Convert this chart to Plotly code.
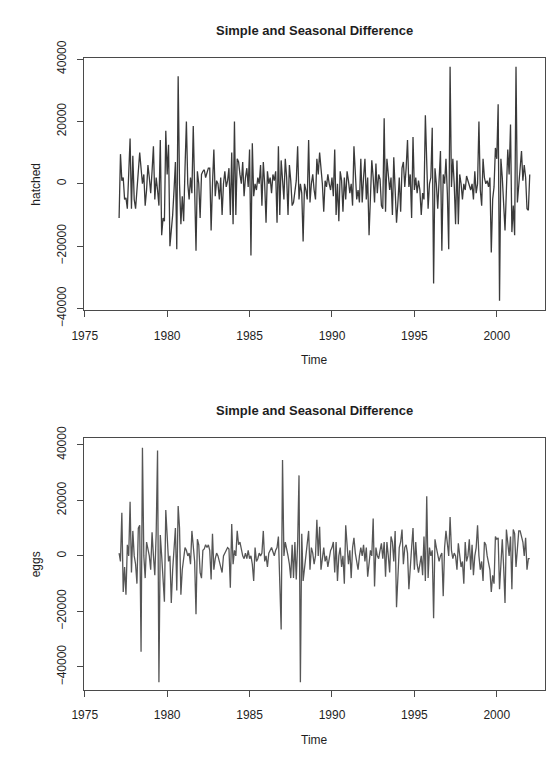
import plotly.graph_objects as go

# Monthly series (Feb 1977 .. Jan 2002), simple + seasonal differences
start_year = 1977
start_month = 2

hatched = [
    -11000, 9500, 1000, 2000, -5000, -4500, -8000, 3000, 14500, -8000, 9000, -5000,
    -8000, -2000, 4000, 10000, 5000, 0, 3000, -7000, -2000, 6000, 2000, -3000,
    4000, 12000, -5000, 2000, -2000, -7000, 14000, -16500, -11000, -12000, 17000, 3000,
    12500, -20000, -15000, -10000, -2000, 7000, -21000, 34500, 0, -13000, -4000, -12000,
    5000, 20000, 0, -5000, 2000, -3000, 18500, 2000, -21500, 4000, 0, -11000,
    3000, 4000, 4500, 2000, 4000, 5000, 5000, -15000, 0, 11000, -4000, 1000,
    0, -5000, 2000, -10000, 0, 4000, -1000, 1000, 5000, -10000, 10000, -13000,
    20000, -10000, 8000, 7000, 3000, 0, 7000, -4000, 2000, 5000, -1000, 11000,
    -23000, 13000, -4000, 0, -2000, 2000, 0, 6000, -7000, 7000, 0, -12500,
    4000, 0, 2000, -3000, 3000, 1000, 4000, -12500, 12000, -10000, 7500, 0,
    -5000, 8000, 2000, -10000, 6000, 1000, -7000, -6000, -3000, 1000, 12000, -5000,
    0, -3000, -18500, 0, -2000, -5000, 14000, -6000, 0, 3000, -2000, -5000,
    8000, 3000, 10000, 5000, 0, -9000, 1000, -1000, 3000, 0, -2000, 2000,
    -4000, 11000, -10000, 0, -12000, 4000, 1000, -9000, 2000, -5000, 4000, 1000,
    -3000, 0, -7000, 12000, 3000, -5000, -2000, -6000, 8000, -6000, 2000, 8000,
    -5000, 2000, -16500, 0, 7500, 2000, -6000, 6500, -3000, 3000, 1500, -7000,
    -8000, 21000, -9000, 8000, 3000, -2000, 2000, -10000, 8500, 0, -12500, -6000,
    2000, -9000, 5000, 7000, -1000, 5000, 14000, -1000, 3000, -11000, 15000, -2000,
    2000, -3000, 1000, -2000, -10000, -3000, -5000, 22000, 5000, -8000, 0, 2000,
    18000, -32000, 5000, 0, -8000, 2000, 10500, -21500, 3000, 0, 8000, -3000,
    -21000, 37500, -1000, 8000, 0, -13000, 7500, -13000, 3000, 0, -5000, 0,
    -2000, 2500, 1000, 0, -2000, 0, -5000, 4000, -3000, 0, 20000, -2000,
    -7000, 8000, 2000, 0, 1000, -1000, 2000, -22000, -5000, -1000, 11500, 8000,
    25500, -37500, 8000, 2000, -5000, -15000, -2000, 11000, 3000, 19000, -15500, -7000,
    -16500, 37500, -6000, 0, 6000, 10500, 1000, 6000, 2000, -8000, -8500, 3000,
]

eggs = [
    1000, -2000, 15500, -13000, -4000, -14000, 4000, 0, 19500, -6000, 9000, 0,
    -3000, -10000, 10000, 11000, -34500, 39000, 0, -8000, 5000, 2000, 0, -5000,
    8500, 0, -7000, 8000, 38000, -45500, 7500, 0, -10000, -16500, 16500, 5000,
    -2000, 0, -17000, -5000, 3000, 10000, -12500, 18000, 10000, -14000, -5000, 0,
    3000, 2000, 0, 1000, -3000, 9000, 4000, -2000, -21000, 6000, 4000, -6000,
    -8000, 2000, 2500, 4000, 3000, 4000, 2000, -8500, 8000, -5000, -1000, 1000,
    0, -2000, -3000, -6000, 0, 1000, 2000, 3000, 2500, -11500, 11500, -3000,
    2000, 0, 9000, 4000, 5000, 2000, 0, -1000, 1000, -1000, 2000, -1000,
    0, -3000, -9000, 3000, -2000, -1000, 1000, 0, 1000, 9000, -2000, 0,
    -4000, 1000, 2000, 3000, 1500, 0, 2000, 3000, 7000, -7000, -26500, 34500,
    0, 5000, 3000, 0, -3000, -8000, 4000, -8000, 5000, -8500, 4500, 29000,
    -45500, 8000, -9000, -5000, 0, 5000, 9000, -5000, 3000, 1000, -3000, 0,
    13000, 0, 10500, -5000, 0, 3000, -2000, 0, -4000, 0, 2000, 3000,
    5000, -6000, 5000, -9000, 0, 3000, -4000, 0, -10000, 11000, 2000, -3000,
    2000, -8000, 3000, 6500, 1000, -3000, -5000, 0, 3000, 0, 4000, -2000,
    3000, -7500, -2000, 2000, 0, 13500, -11000, 3000, 0, -1000, 2000, 4500,
    -1000, 5000, -7500, 5000, 0, -6000, 7000, 5000, -2000, 9000, -18500, -8000,
    3000, 5000, 9500, -3000, 3000, 4000, 1000, -12000, -2000, 3000, 10000, -5000,
    5000, -3000, -6000, -3000, 0, -7000, 7000, -9000, 21500, -8000, 3000, 0,
    2000, -22500, 6000, 3000, 0, -2000, 0, 1000, -14500, 3000, 9000, 3000,
    0, 14000, 2000, -1000, 1000, 0, -5000, 4500, 0, -4000, -2000, -10000,
    5000, -2000, 0, 6000, -5000, 4000, -7000, 0, 3000, 11000, 0, -5000,
    -2000, -9000, 5000, 4000, 0, -2000, -5000, -13000, -7000, -10000, 7000, 6000,
    6500, -12000, 0, 6000, -4000, -17000, 9500, 3000, 0, 7000, -12000, 9500,
    8000, -4000, 3000, 9000, 9000, 7000, 5000, 0, 6500, -5000, -1000, -1000,
]

x_ticks = [1975, 1980, 1985, 1990, 1995, 2000]
y_ticks = [-40000, -20000, 0, 20000, 40000]
y_tick_text = ["\u221240000", "\u221220000", "0", "20000", "40000"]

title_text = "Simple and Seasonal Difference"
x_label = "Time"
y_labels = ["hatched", "eggs"]

time = [start_year + (start_month - 1) / 12 + i / 12 for i in range(len(hatched))]

W, H = 548, 763
FONT = "Liberation Sans, Arial, Helvetica, sans-serif"
TXT = "#1e1e1e"
BOX = "#4a4a4a"

fig = go.Figure()
fig.add_trace(go.Scatter(x=time, y=hatched, mode="lines",
                         line=dict(color="#3a3a3a", width=1.3),
                         xaxis="x", yaxis="y", showlegend=False, hoverinfo="skip"))
fig.add_trace(go.Scatter(x=time, y=eggs, mode="lines",
                         line=dict(color="#565656", width=1.3),
                         xaxis="x2", yaxis="y2", showlegend=False, hoverinfo="skip"))

box_l, box_r = 73, 545
top_box = (42, 306)
bot_box = (439.5, 703.3)


def px(x):
    return x / W


def py(y):
    return 1 - y / H


xax = dict(range=[1974.97, 2002.93], tickmode="array", tickvals=x_ticks,
           ticks="outside", ticklen=6, tickwidth=1, tickcolor=BOX,
           showline=True, linecolor=BOX, linewidth=1, mirror=True,
           showgrid=False, zeroline=False,
           tickfont=dict(family=FONT, size=12, color=TXT),
           ticklabelstandoff=8, domain=[px(box_l), px(box_r)])
yax = dict(tickmode="array", tickvals=y_ticks, ticktext=y_tick_text,
           ticks="outside", ticklen=6, tickwidth=1, tickcolor=BOX,
           showline=True, linecolor=BOX, linewidth=1, mirror=True,
           showgrid=False, zeroline=False, tickangle=-90,
           tickfont=dict(family=FONT, size=12, color=TXT),
           ticklabelstandoff=6)

layout = dict(
    width=W, height=H, margin=dict(l=0, r=0, t=0, b=0),
    paper_bgcolor="white", plot_bgcolor="white",
    xaxis=dict(xax, anchor="y"),
    yaxis=dict(yax, range=[-40600, 40300], domain=[py(top_box[1]), py(top_box[0])], anchor="x"),
    xaxis2=dict(xax, anchor="y2"),
    yaxis2=dict(yax, range=[-48300, 42500], domain=[py(bot_box[1]), py(bot_box[0])], anchor="x2"),
)
fig.update_layout(**layout)

cx = px((box_l + box_r) / 2)
ann = []
for (bt, bb), ylab, ty in [(top_box, y_labels[0], 13), (bot_box, y_labels[1], 410.7)]:
    ann.append(dict(text="<b>" + title_text + "</b>", x=cx, y=py(ty), xref="paper", yref="paper",
                    showarrow=False, xanchor="center", yanchor="middle",
                    font=dict(family=FONT, size=13, color=TXT)))
    ann.append(dict(text=x_label, x=cx, y=py(bb + 52), xref="paper", yref="paper",
                    showarrow=False, xanchor="center", yanchor="middle",
                    font=dict(family=FONT, size=12, color=TXT)))
    ann.append(dict(text=ylab, x=px(24), y=py((bt + bb) / 2), xref="paper", yref="paper",
                    showarrow=False, xanchor="center", yanchor="middle", textangle=-90,
                    font=dict(family=FONT, size=12, color=TXT)))
fig.update_layout(annotations=ann)

fig.write_html("out.html", config={"displayModeBar": False},
               post_script="document.body.style.margin='0';")
